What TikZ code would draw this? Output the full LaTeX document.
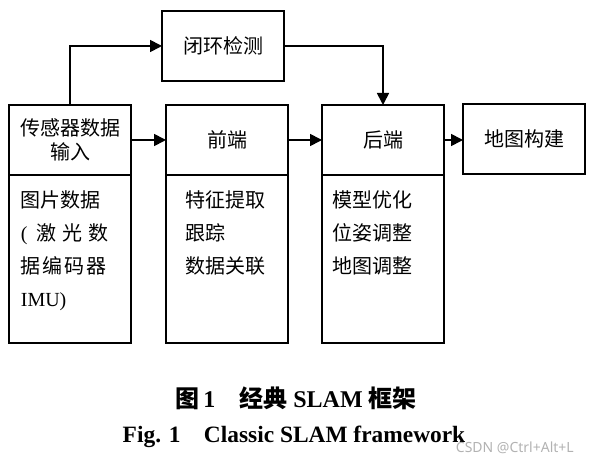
\documentclass[tikz,border=0pt]{standalone}
\usepackage{fontspec}
\setmainfont{Liberation Serif}
\setsansfont{Noto Sans}
\newfontfamily\cjk{Noto Sans CJK SC}
\usetikzlibrary{positioning,arrows.meta}

\begin{document}
\begin{tikzpicture} [x = 1pt, y = 1pt, line width = 1.7pt,
	box/.style = {draw, outer sep = 0pt, inner sep = 0pt, minimum width = 122pt, minimum height = 70pt, align = center, font = \cjk\fontsize{20}{24}\selectfont},
	body/.style = {draw, outer sep = 0pt, inner sep = 0pt, minimum width = 122pt, minimum height = 168pt},
	items/.style = {anchor = north west, align = left, inner sep = 0pt, font = \cjk\fontsize{20}{33}\selectfont},
	arr/.style = {-{Triangle[length = 12pt, width = 12pt]}}]
	\useasboundingbox (0,0) rectangle (594,464);
	% top row
	\node [box] (loop) at (223,418) {闭环检测};
	\node [box] (sensor) at (70,324) {传感器数据\\输入};
	\node [box] (front) at (227,324) {前端};
	\node [box] (back) at (383,324) {后端};
	\node [box] (map) at (524,325) {地图构建};
	% lower parts
	\node [body, below = 0pt of sensor] (sensorD) {};
	\node [body, below = 0pt of front] (frontD) {};
	\node [body, below = 0pt of back] (backD) {};
	\node [items] (sensorT) at (20,274) {图片数据\\{\rmfamily(}\hspace{9pt}激\hspace{6pt}光\hspace{6pt}数\\据\hspace{2pt}编\hspace{2pt}码\hspace{2pt}器\\{\rmfamily IMU)}};
	\node [items] (frontT) at (185,274) {特征提取\\跟踪\\数据关联};
	\node [items] (backT) at (332,274) {模型优化\\位姿调整\\地图调整};
	% connectors
	\draw [arr] (sensor.east) -- (front.west);
	\draw [arr] (front.east) -- (back.west);
	\draw [arr] (back.east) -- (map.west |- back.east);
	\draw [arr] (sensor.north) |- (loop.west);
	\draw [arr] (loop.east) -| (back.north);
	% caption
	\node [font = \bfseries\fontsize{24}{28}\selectfont] (title) at (296,66) {{\cjk 图}\,1\quad {\cjk 经典} SLAM {\cjk 框架}};
	\node [font = \bfseries\fontsize{23.4}{28}\selectfont] (caption) at (294,27) {Fig. 1\quad Classic SLAM framework};
	\node [anchor = east, text = gray!60, font = \sffamily\fontsize{14}{16}\selectfont] (mark) at (578,16) {CSDN @Ctrl+Alt+L};
\end{tikzpicture}
\end{document}
